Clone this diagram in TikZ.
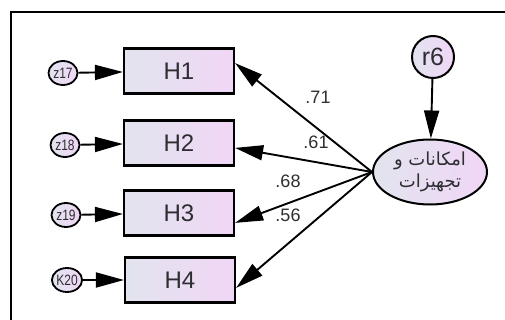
\documentclass[tikz,border=0pt]{standalone}
\usepackage{fontspec}
\setmainfont{Liberation Sans}
\newfontfamily\arabicfont[Script=Arabic]{DejaVu Sans}
\TeXXeTstate=1
\usetikzlibrary{arrows.meta,shapes.geometric}
\definecolor{shadeleft}{RGB}{226,228,238}
\definecolor{shaderight}{RGB}{240,214,246}
\definecolor{ink}{RGB}{45,45,50}
\begin{document}
\begin{tikzpicture}[x=1pt,y=-1pt,
    obs/.style={draw,line width=2.2pt,minimum width=110pt,minimum height=45pt,
      left color=shadeleft,right color=shaderight,text=ink,font=\fontsize{24}{24}\selectfont},
    err/.style={draw,ellipse,line width=1.8pt,inner sep=0pt,minimum width=29pt,minimum height=24pt,
      left color=shadeleft,right color=shaderight,text=ink,font=\fontsize{15}{15}\selectfont},
    lat/.style={draw,ellipse,line width=2pt,inner sep=0pt,minimum width=114pt,minimum height=65pt,
      left color=shadeleft,right color=shaderight,text=ink,align=center,
      font=\arabicfont\fontsize{18}{22}\selectfont},
    res/.style={draw,circle,line width=2pt,inner sep=0pt,minimum size=42pt,
      left color=shadeleft,right color=shaderight,text=ink,font=\fontsize{25}{25}\selectfont},
    coef/.style={text=ink,font=\fontsize{18}{18}\selectfont},
    path/.style={line width=1.9pt,-{Triangle[length=28pt,width=15pt]}}]
  \useasboundingbox (0,0) rectangle (505,320);
  \draw[line width=2pt] (11,320) -- (11,12) -- (505,12);
  \draw
    (179,71) node[obs] (h1){H1}
    (179,143) node[obs] (h2){H2}
    (179,213) node[obs] (h3){H3}
    (180,280) node[obs] (h4){H4}
    (63,73) node[err] (z17){\scalebox{0.8}[1]{z17}}
    (65,145) node[err] (z18){\scalebox{0.8}[1]{z18}}
    (66,215) node[err] (z19){\scalebox{0.8}[1]{z19}}
    (67,280) node[err] (k20){\scalebox{0.8}[1]{K20}}
    (430,172) node[lat] (fac){\beginR امکانات و\endR\\\beginR تجهیزات\endR}
    (433,57) node[res] (r6){r6};
  \begin{scope}[path]
    \draw (z17) to (h1);
    \draw (z18) to (h2);
    \draw (z19) to (h3);
    \draw (k20) to (h4);
    \draw (r6) to (fac);
    \draw (fac.west) to (h1.8);
    \draw (fac.west) to (h2.355);
    \draw (fac.west) to (h3.350);
    \draw (fac.west) to (h4.352);
  \end{scope}
  \draw
    (318,97) node[coef] (c1){.71}
    (316,142) node[coef] (c2){.61}
    (288,181) node[coef] (c3){.68}
    (288,215) node[coef] (c4){.56};
\end{tikzpicture}
\end{document}
